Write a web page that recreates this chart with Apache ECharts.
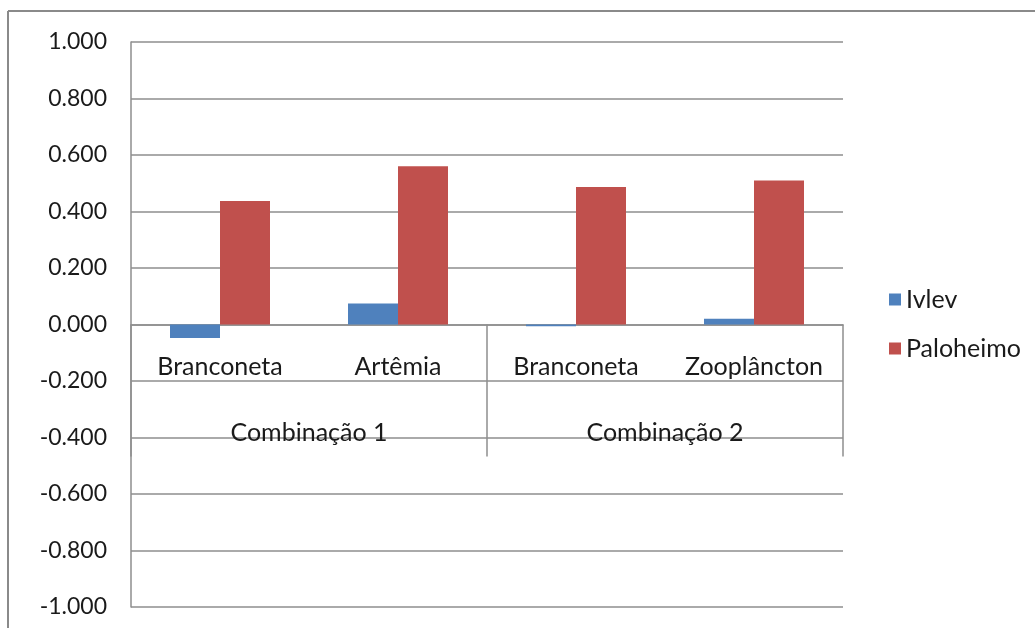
<!DOCTYPE html>
<html>
<head>
<meta charset="utf-8">
<script src="https://cdn.jsdelivr.net/npm/echarts@6/dist/echarts.min.js"></script>
<style>
  html, body { margin: 0; padding: 0; background: #fff; }
  #chart { width: 1035px; height: 628px; }
</style>
</head>
<body>
<div id="chart"></div>
<script>
// Prey items, grouped by food combination
const categories = ['Branconeta', 'Artêmia', 'Branconeta', 'Zooplâncton'];
const groups = ['Combinação 1', 'Combinação 2'];
const seriesNames = ['Ivlev', 'Paloheimo'];
const ivlev = [-0.048, 0.074, -0.006, 0.020];
const paloheimo = [0.437, 0.560, 0.487, 0.510];
const yMin = -1;
const yMax = 1;
const yStep = 0.2;

const FONT = 'Lato';
const GRID_COLOR = '#8e8e8e';
const TEXT_COLOR = '#1a1a1a';

const chart = echarts.init(document.getElementById('chart'));

function buildOption(axisShift) {
  return {
    animation: false,
    backgroundColor: '#ffffff',
    textStyle: { fontFamily: FONT },
    graphic: [
      { type: 'line', shape: { x1: 8, y1: 11, x2: 1035, y2: 11 }, style: { stroke: '#8a8a8a', lineWidth: 2 } },
      { type: 'line', shape: { x1: 8, y1: 11, x2: 8, y2: 628 }, style: { stroke: '#8a8a8a', lineWidth: 2 } }
    ],
    grid: { left: 131, right: 192, top: 42, bottom: 21, containLabel: false, outerBoundsMode: 'none' },
    legend: {
      orient: 'vertical',
      left: 884,
      top: 282,
      itemWidth: 12,
      itemHeight: 12,
      itemGap: 24,
      icon: 'rect',
      data: seriesNames,
      textStyle: { fontFamily: FONT, fontSize: 25, color: TEXT_COLOR }
    },
    xAxis: [
      {
        // prey items, drawn along the zero line
        type: 'category',
        data: categories,
        position: 'bottom',
        offset: axisShift,
        axisLine: { onZero: false, lineStyle: { color: GRID_COLOR, width: 1.5 } },
        axisTick: { show: false },
        axisLabel: { margin: 30, fontFamily: FONT, fontSize: 25, color: TEXT_COLOR, interval: 0 }
      },
      {
        // combination groups with separators between them
        type: 'category',
        data: groups,
        position: 'bottom',
        offset: axisShift,
        axisLine: { show: false, onZero: false },
        axisTick: { show: true, length: 132, lineStyle: { color: GRID_COLOR, width: 1.5 } },
        axisLabel: { margin: 96, fontFamily: FONT, fontSize: 25, color: TEXT_COLOR, interval: 0 }
      }
    ],
    yAxis: {
      type: 'value',
      min: yMin,
      max: yMax,
      interval: yStep,
      axisLine: { show: true, lineStyle: { color: GRID_COLOR, width: 1.5 } },
      axisTick: { show: false },
      splitLine: { show: true, lineStyle: { color: GRID_COLOR, width: 1.5 } },
      axisLabel: {
        margin: 24,
        fontFamily: FONT,
        fontSize: 23,
        color: TEXT_COLOR,
        formatter: v => v.toFixed(3)
      }
    },
    series: [
      {
        name: seriesNames[0],
        type: 'bar',
        data: ivlev,
        barWidth: 50,
        barGap: '0%',
        itemStyle: { color: '#4f81bd' }
      },
      {
        name: seriesNames[1],
        type: 'bar',
        data: paloheimo,
        barWidth: 50,
        barGap: '0%',
        itemStyle: { color: '#c0504d' }
      }
    ]
  };
}

chart.setOption(buildOption(0));
// lift the category axes from the bottom edge up to the zero line
const zeroY = chart.convertToPixel({ yAxisIndex: 0 }, 0);
const bottomY = chart.convertToPixel({ yAxisIndex: 0 }, yMin);
chart.setOption(buildOption(zeroY - bottomY));
</script>
</body>
</html>
